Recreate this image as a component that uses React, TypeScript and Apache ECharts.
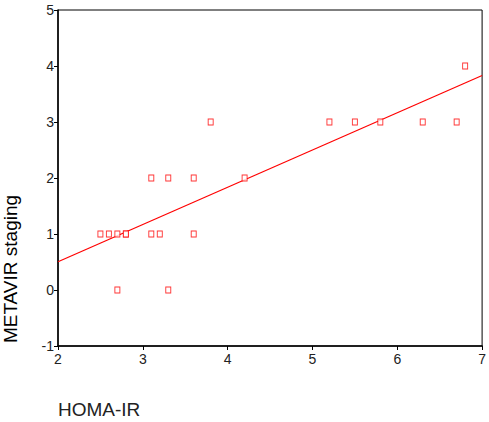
import React, { useEffect, useRef } from "react";
import * as echarts from "echarts";

const homaIR = [2.5, 2.6, 2.7, 2.8, 2.8, 3.1, 3.2, 3.6, 3.1, 3.3, 3.6, 4.2, 2.7, 3.3, 3.8, 5.2, 5.5, 5.8, 6.3, 6.7, 6.8];
const metavir = [1, 1, 1, 1, 1, 1, 1, 1, 2, 2, 2, 2, 0, 0, 3, 3, 3, 3, 3, 3, 4];
const fitX = [2, 7];
const fitY = [0.505, 3.83];
const xTicks = [2, 3, 4, 5, 6, 7];
const yTicks = [-1, 0, 1, 2, 3, 4, 5];

export default function App() {
  const ref = useRef<HTMLDivElement>(null);
  useEffect(() => {
    if (!ref.current) return;
    const chart = echarts.init(ref.current, null, { renderer: "svg" });
    const font = "Liberation Sans, Arial, sans-serif";
    chart.setOption({
      animation: false,
      backgroundColor: "#fff",
      grid: { left: 58, right: 4, top: 10, bottom: 76, show: true, borderColor: "#000", borderWidth: 1, backgroundColor: "transparent" },
      xAxis: {
        type: "value",
        min: xTicks[0],
        max: xTicks[xTicks.length - 1],
        interval: 1,
        splitLine: { show: false },
        axisLine: { show: true, onZero: false, lineStyle: { color: "#000", width: 1.5 } },
        axisTick: { show: true, length: 4, lineStyle: { color: "#000" } },
        axisLabel: { color: "#222", fontSize: 14, fontFamily: font, margin: 6 },
      },
      yAxis: {
        type: "value",
        min: yTicks[0],
        max: yTicks[yTicks.length - 1],
        interval: 1,
        splitLine: { show: false },
        axisLine: { show: true, onZero: false, lineStyle: { color: "#000", width: 1.5 } },
        axisTick: { show: true, length: 4, lineStyle: { color: "#000" } },
        axisLabel: { color: "#222", fontSize: 14, fontFamily: font, margin: 4 },
      },
      graphic: [
        {
          type: "text",
          x: 10,
          y: 269,
          rotation: Math.PI / 2,
          style: {
            text: "METAVIR staging",
            fill: "#000",
            font: "19px Liberation Sans, Arial, sans-serif",
            align: "center",
            verticalAlign: "middle",
          },
        },
        {
          type: "text",
          left: 58,
          top: 400,
          style: {
            text: "HOMA-IR",
            fill: "#222",
            font: "19px Liberation Sans, Arial, sans-serif",
          },
        },
      ],
      series: [
        {
          type: "line",
          data: fitX.map((x, i) => [x, fitY[i]]),
          symbol: "none",
          lineStyle: { color: "#ff0000", width: 1.2 },
          silent: true,
          z: 2,
        },
        {
          type: "scatter",
          data: homaIR.map((x, i) => [x, metavir[i]]),
          symbol: "rect",
          symbolSize: [5, 6],
          itemStyle: { color: "#fff", borderColor: "#ff0000", borderWidth: 1 },
          z: 3,
        },
      ],
    });
    return () => chart.dispose();
  }, []);
  return <div ref={ref} style={{ width: 489, height: 422, position: "absolute", left: 0, top: 0 }} />;
}
